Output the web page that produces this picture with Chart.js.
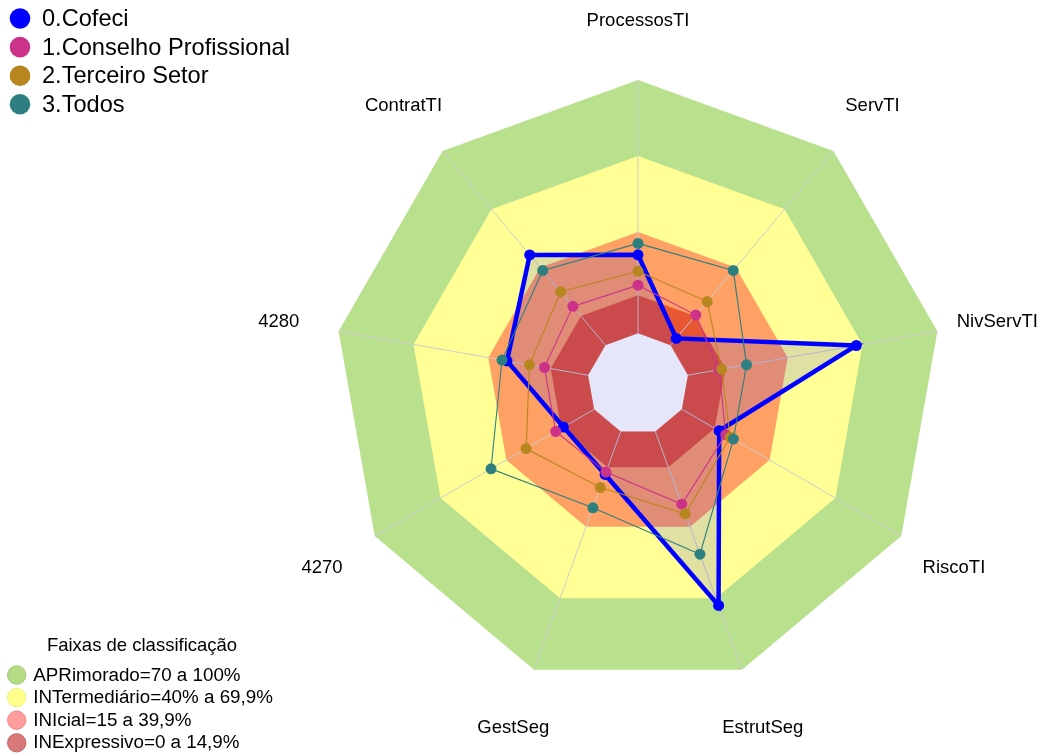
<!DOCTYPE html>
<html lang="pt-BR">
<head>
<meta charset="utf-8">
<title>Radar - Faixas de classificação</title>
<script src="https://cdn.jsdelivr.net/npm/chart.js@4.4.1/dist/chart.umd.min.js"></script>
<style>
  html, body { margin: 0; padding: 0; background: #ffffff; }
  #wrap { width: 1041px; height: 756px; }
</style>
</head>
<body>
<div id="wrap"><canvas id="radarChart" width="1041" height="756"></canvas></div>
<script>
// eixos do radar (sentido horario a partir do topo)
const eixos = ['ProcessosTI', 'ServTI', 'NivServTI', 'RiscoTI', 'EstrutSeg', 'GestSeg', '4270', '4280', 'ContratTI'];

// valores em %
const cofeci = [31, 3.5, 67.5, 17, 73, 18, 14, 32.5, 46.5];
const conselhoProfissional = [19, 15.5, 12.5, 20, 30.5, 17, 17.5, 17.5, 20];
const terceiroSetor = [24.5, 22.5, 13.5, 22, 34.5, 23.5, 31, 23.5, 27.5];
const todos = [35.5, 38.5, 23.5, 23.5, 51.5, 32, 47, 34.5, 38.5];

const series = ['0.Cofeci', '1.Conselho Profissional', '2.Terceiro Setor', '3.Todos'];

// faixas de classificacao (limite superior de cada faixa)
const faixasLimites = [100, 70, 40, 15];
const faixasNomes = ['APRimorado=70 a 100%', 'INTermediário=40% a 69,9%', 'INIcial=15 a 39,9%', 'INExpressivo=0 a 14,9%'];
const tituloFaixas = 'Faixas de classificação';

const escalaMin = -20;
const escalaMax = 100;

// estilos
const fonte = '"Liberation Sans", Arial, Helvetica, sans-serif';
const coresSeries = ['#0000FF', '#CC3388', '#B8861E', '#2E7F7F'];
const coresFaixas = ['#B9E08C', '#FFFF96', '#FFA064', '#E85634'];
const corCentro = '#E6E6FA';
const legendaFaixasFill = ['#B5DC85', '#FFFF8C', '#FF9C9C', '#D97A7A'];
const legendaFaixasBorda = ['#9CC86C', '#EEEE77', '#F08888', '#C66464'];

const fundoRadar = {
    id: 'fundoRadar',
    beforeDatasetsDraw(chart) {
        const ctx = chart.ctx;
        const r = chart.scales.r;
        const n = chart.data.labels.length;

        function poligono(valor, cor) {
            ctx.beginPath();
            for (let i = 0; i < n; i++) {
                const p = r.getPointPositionForValue(i, valor);
                if (i === 0) ctx.moveTo(p.x, p.y);
                else ctx.lineTo(p.x, p.y);
            }
            ctx.closePath();
            ctx.fillStyle = cor;
            ctx.fill();
        }

        ctx.save();
        faixasLimites.forEach((v, i) => poligono(v, coresFaixas[i]));
        poligono(0, corCentro);

        // raios
        ctx.strokeStyle = '#CDCDCD';
        ctx.lineWidth = 1;
        for (let i = 0; i < n; i++) {
            const a = r.getPointPositionForValue(i, 0);
            const b = r.getPointPositionForValue(i, escalaMax);
            ctx.beginPath();
            ctx.moveTo(a.x, a.y);
            ctx.lineTo(b.x, b.y);
            ctx.stroke();
        }
        ctx.restore();
    },
    afterDraw(chart) {
        const ctx = chart.ctx;
        const r = chart.scales.r;
        ctx.save();

        // rotulos dos eixos
        ctx.font = '18.5px ' + fonte;
        ctx.fillStyle = '#000';
        ctx.textAlign = 'center';
        ctx.textBaseline = 'middle';
        chart.data.labels.forEach((lab, i) => {
            const p = r.getPointPosition(i, r.drawingArea * 1.2);
            ctx.fillText(lab, p.x, p.y + 1.5);
        });

        // legenda das series
        ctx.textAlign = 'left';
        ctx.font = '23.6px ' + fonte;
        series.forEach((s, i) => {
            const y = 18.5 + i * 28.6;
            ctx.beginPath();
            ctx.arc(20, y, 10.3, 0, Math.PI * 2);
            ctx.fillStyle = coresSeries[i];
            ctx.fill();
            ctx.fillStyle = '#000';
            ctx.fillText(s, 42, y + 1);
        });

        // legenda das faixas
        ctx.font = '18.5px ' + fonte;
        ctx.textAlign = 'center';
        ctx.fillText(tituloFaixas, 142, 645.5);
        ctx.textAlign = 'left';
        ctx.font = '18.8px ' + fonte;
        faixasNomes.forEach((nome, i) => {
            const y = 675 + i * 22.6;
            ctx.beginPath();
            ctx.arc(16.7, y, 9.2, 0, Math.PI * 2);
            ctx.fillStyle = legendaFaixasFill[i];
            ctx.fill();
            ctx.lineWidth = 1;
            ctx.strokeStyle = legendaFaixasBorda[i];
            ctx.stroke();
            ctx.fillStyle = '#000';
            ctx.fillText(nome, 33.3, y + 0.5);
        });

        ctx.restore();
    }
};

function serie(label, data, idx, extra) {
    return Object.assign({
        label: label,
        data: data,
        borderColor: coresSeries[idx],
        backgroundColor: coresSeries[idx],
        pointBackgroundColor: coresSeries[idx],
        pointBorderColor: coresSeries[idx],
        pointBorderWidth: 0,
        pointRadius: 5.5,
        borderWidth: 1.1,
        fill: false,
        order: 4 - idx
    }, extra || {});
}

document.addEventListener('DOMContentLoaded', function() {
    const ctx = document.getElementById('radarChart').getContext('2d');
    new Chart(ctx, {
        type: 'radar',
        data: {
            labels: eixos,
            datasets: [
                serie(series[0], cofeci, 0, {
                    backgroundColor: 'rgba(0, 0, 255, 0.12)',
                    fill: 'origin',
                    borderWidth: 4.5
                }),
                serie(series[1], conselhoProfissional, 1),
                serie(series[2], terceiroSetor, 2),
                serie(series[3], todos, 3)
            ]
        },
        options: {
            responsive: false,
            animation: false,
            devicePixelRatio: 1,
            layout: {
                padding: { left: 334, right: 99, top: 80, bottom: 68 }
            },
            elements: {
                line: { tension: 0 }
            },
            scales: {
                r: {
                    min: escalaMin,
                    max: escalaMax,
                    beginAtZero: false,
                    ticks: { display: false },
                    grid: { display: false },
                    angleLines: { display: false },
                    pointLabels: { display: false }
                }
            },
            plugins: {
                legend: { display: false },
                tooltip: { enabled: false }
            }
        },
        plugins: [fundoRadar]
    });
});
</script>
</body>
</html>
